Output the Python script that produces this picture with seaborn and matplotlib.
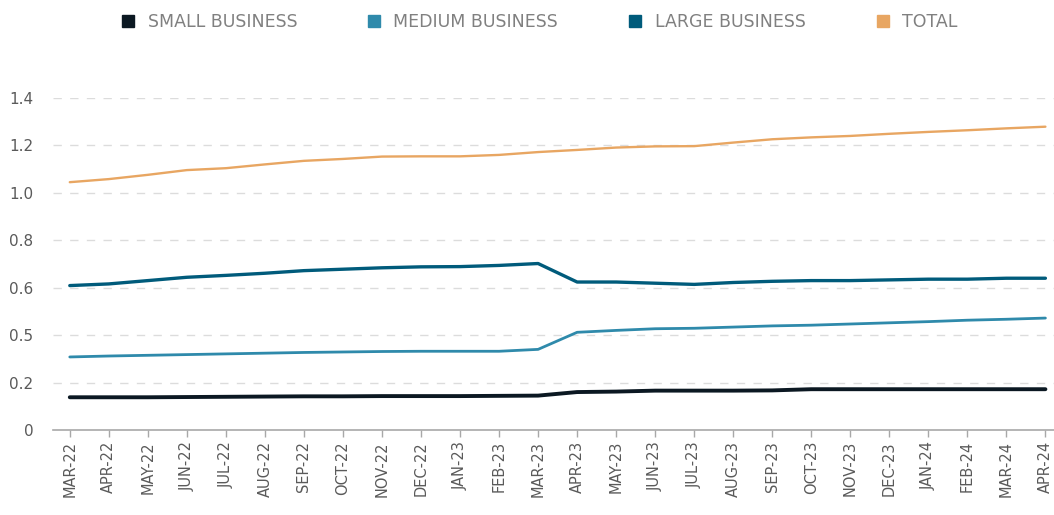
import matplotlib
matplotlib.use("Agg")
import matplotlib.pyplot as plt
import seaborn as sns
import pandas as pd
from matplotlib.lines import Line2D

months = ["MAR-22", "APR-22", "MAY-22", "JUN-22", "JUL-22", "AUG-22", "SEP-22", "OCT-22",
          "NOV-22", "DEC-22", "JAN-23", "FEB-23", "MAR-23", "APR-23", "MAY-23", "JUN-23",
          "JUL-23", "AUG-23", "SEP-23", "OCT-23", "NOV-23", "DEC-23", "JAN-24", "FEB-24",
          "MAR-24", "APR-24"]

small_business = [0.138, 0.138, 0.138, 0.139, 0.140, 0.141, 0.142, 0.142, 0.143, 0.143,
                  0.143, 0.144, 0.145, 0.160, 0.162, 0.166, 0.166, 0.166, 0.167, 0.172,
                  0.172, 0.172, 0.172, 0.172, 0.172, 0.172]
medium_business = [0.308, 0.312, 0.315, 0.318, 0.321, 0.324, 0.327, 0.329, 0.331, 0.332,
                   0.332, 0.332, 0.340, 0.412, 0.420, 0.427, 0.429, 0.434, 0.439, 0.442,
                   0.447, 0.452, 0.457, 0.463, 0.467, 0.472]
large_business = [0.609, 0.616, 0.630, 0.644, 0.652, 0.661, 0.672, 0.678, 0.684, 0.688,
                  0.689, 0.694, 0.702, 0.624, 0.624, 0.619, 0.614, 0.622, 0.627, 0.630,
                  0.630, 0.633, 0.636, 0.636, 0.640, 0.640]
total = [1.045, 1.058, 1.076, 1.096, 1.104, 1.120, 1.135, 1.143, 1.153, 1.154,
         1.154, 1.160, 1.172, 1.181, 1.191, 1.196, 1.197, 1.212, 1.226, 1.234,
         1.240, 1.249, 1.257, 1.264, 1.272, 1.279]

series_names = ["SMALL BUSINESS", "MEDIUM BUSINESS", "LARGE BUSINESS", "TOTAL"]
series_values = [small_business, medium_business, large_business, total]
y_ticks = [0, 0.2, 0.4, 0.6, 0.8, 1.0, 1.2, 1.4]
y_tick_labels = ["0", "0.2", "0.5", "0.6", "0.8", "1.0", "1.2", "1.4"]

colors = {"SMALL BUSINESS": "#0b1822", "MEDIUM BUSINESS": "#2f8aab",
          "LARGE BUSINESS": "#005b7b", "TOTAL": "#e8a662"}
widths = {"SMALL BUSINESS": 2.8, "MEDIUM BUSINESS": 2.0,
          "LARGE BUSINESS": 2.4, "TOTAL": 1.7}

rows = []
for name, vals in zip(series_names, series_values):
    for i, (m, v) in enumerate(zip(months, vals)):
        rows.append({"idx": i, "month": m, "series": name, "value": v})
df = pd.DataFrame(rows)

sns.set_theme(style="white")
plt.rcParams["font.family"] = ["DejaVu Sans"]

fig = plt.figure(figsize=(10.54, 5.15), dpi=100)
ax = fig.add_axes([53 / 1054, 1 - 430 / 515, 1 - 53 / 1054, (430 - 98) / 515])

for name in series_names:
    sub = df[df["series"] == name]
    sns.lineplot(data=sub, x="idx", y="value", ax=ax, color=colors[name],
                 linewidth=widths[name], legend=False, clip_on=False, zorder=3)

ax.set_xlim(-0.43, 25.22)
ax.set_ylim(0, 1.4)
ax.set_yticks(y_ticks)
ax.set_yticklabels(y_tick_labels)
ax.set_xticks(range(len(months)))
ax.set_xticklabels(months, rotation=90)
ax.set_xlabel("")
ax.set_ylabel("")

for y in y_ticks[1:]:
    ax.axhline(y, color="#dcdcdc", linewidth=1.0, linestyle=(0, (6, 6)), zorder=1)

for s in ["top", "right", "left"]:
    ax.spines[s].set_visible(False)
ax.spines["bottom"].set_color("#a8a8a8")
ax.spines["bottom"].set_linewidth(1.2)

ax.tick_params(axis="x", colors="#a8a8a8", length=5, width=1, labelcolor="#5a5a5a",
               labelsize=10.5, pad=3, bottom=True)
ax.tick_params(axis="y", length=0, labelcolor="#5a5a5a", labelsize=11, pad=14)

handles = [Line2D([0], [0], marker="s", linestyle="none", markersize=8,
                  markerfacecolor=colors[n], markeredgecolor=colors[n]) for n in series_names]
leg = fig.legend(handles, series_names, loc="center", bbox_to_anchor=(0.5117, 1 - 22 / 515),
                 ncol=4, frameon=False, fontsize=12.5, handletextpad=0.7,
                 columnspacing=4.05, handlelength=0.8)
for t in leg.get_texts():
    t.set_color("#808080")

fig.savefig("out.png", dpi=100)
